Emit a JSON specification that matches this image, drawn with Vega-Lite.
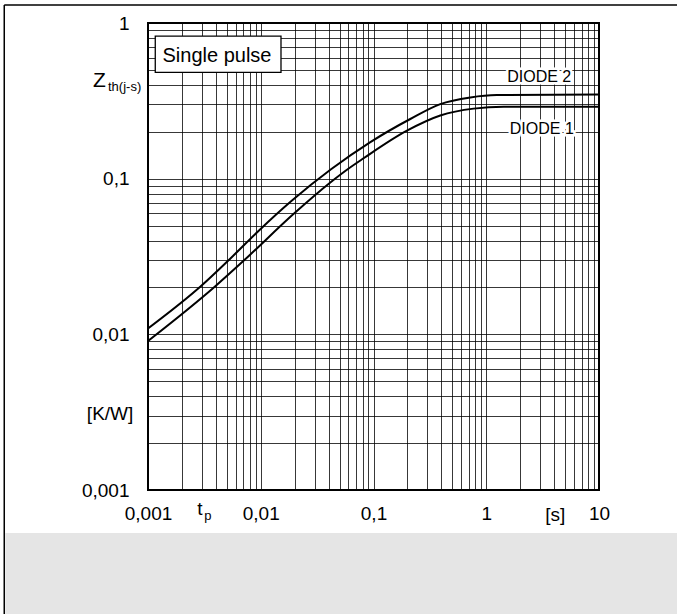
{
  "$schema": "https://vega.github.io/schema/vega-lite/v6.json",
  "autosize": {"type": "none"},
  "width": 451,
  "height": 467,
  "padding": {"left": 148, "top": 23, "right": 78, "bottom": 124},
  "background": "white",
  "config": {
    "view": {"stroke": "#000", "strokeWidth": 2},
    "font": "Liberation Sans",
    "axis": {
      "ticks": false, "domain": false, "grid": true,
      "gridColor": "#000", "gridOpacity": 0.78, "gridWidth": 1,
      "labelFont": "Liberation Sans", "labelFontSize": 19, "labelColor": "#000",
      "labelOverlap": false, "labelFlush": false, "labelBound": false
    }
  },
  "datasets": {
    "curves": [
      {"series": "DIODE 2", "t": 0.001, "z": 0.0109},
      {"series": "DIODE 2", "t": 0.00299, "z": 0.02058},
      {"series": "DIODE 2", "t": 0.00533, "z": 0.03049},
      {"series": "DIODE 2", "t": 0.0095, "z": 0.04597},
      {"series": "DIODE 2", "t": 0.0188, "z": 0.07208},
      {"series": "DIODE 2", "t": 0.042, "z": 0.1149},
      {"series": "DIODE 2", "t": 0.0938, "z": 0.1717},
      {"series": "DIODE 2", "t": 0.212, "z": 0.2417},
      {"series": "DIODE 2", "t": 0.391, "z": 0.3014},
      {"series": "DIODE 2", "t": 0.723, "z": 0.3325},
      {"series": "DIODE 2", "t": 1.24, "z": 0.3444},
      {"series": "DIODE 2", "t": 10, "z": 0.347},
      {"series": "DIODE 1", "t": 0.001, "z": 0.00906},
      {"series": "DIODE 1", "t": 0.00393, "z": 0.0203},
      {"series": "DIODE 1", "t": 0.00724, "z": 0.03023},
      {"series": "DIODE 1", "t": 0.0195, "z": 0.05928},
      {"series": "DIODE 1", "t": 0.0414, "z": 0.09453},
      {"series": "DIODE 1", "t": 0.0598, "z": 0.1158},
      {"series": "DIODE 1", "t": 0.0817, "z": 0.1352},
      {"series": "DIODE 1", "t": 0.198, "z": 0.2033},
      {"series": "DIODE 1", "t": 0.391, "z": 0.2544},
      {"series": "DIODE 1", "t": 0.773, "z": 0.2818},
      {"series": "DIODE 1", "t": 1.43, "z": 0.2897},
      {"series": "DIODE 1", "t": 10, "z": 0.290}
    ],
    "curveLabels": [
      {"label": "DIODE 2", "t": 2.95, "z": 0.449},
      {"label": "DIODE 1", "t": 3.11, "z": 0.2083}
    ],
    "bigText": [
      {"label": "Z", "t": 0.0003252, "z": 0.3858, "size": "big", "align": "left"},
      {"label": "[K/W]", "t": 0.000741, "z": 0.003076, "size": "mid", "align": "right"},
      {"label": "t", "t": 0.002737, "z": 0.000691, "size": "mid", "align": "left"},
      {"label": "[s]", "t": 4.097, "z": 0.000696, "size": "mid", "align": "center"}
    ],
    "smallText": [
      {"label": "th(j-s)", "t": 0.0004417, "z": 0.3652},
      {"label": "p", "t": 0.003157, "z": 0.000646}
    ]
  },
  "layer": [
    {
      "data": {"name": "curves"},
      "mark": {"type": "line", "color": "#000", "strokeWidth": 2, "interpolate": "monotone", "clip": true},
      "encoding": {
        "x": {
          "field": "t", "type": "quantitative",
          "scale": {"type": "log", "domain": [0.001, 10], "nice": false},
          "axis": {
            "title": null,
            "values": [0.001, 0.002, 0.003, 0.004, 0.005, 0.006, 0.007, 0.008, 0.009, 0.01, 0.02, 0.03, 0.04, 0.05, 0.06, 0.07, 0.08, 0.09, 0.1, 0.2, 0.3, 0.4, 0.5, 0.6, 0.7, 0.8, 0.9, 1, 2, 3, 4, 5, 6, 7, 8, 9, 10],
            "labelExpr": "(datum.value == 0.001 || datum.value == 0.01 || datum.value == 0.1 || datum.value == 1 || datum.value == 10) ? replace(toString(datum.value), '.', ',') : ''",
            "labelPadding": 14
          }
        },
        "y": {
          "field": "z", "type": "quantitative",
          "scale": {"type": "log", "domain": [0.001, 1], "nice": false},
          "axis": {
            "title": null,
            "values": [0.001, 0.002, 0.003, 0.004, 0.005, 0.006, 0.007, 0.008, 0.009, 0.01, 0.02, 0.03, 0.04, 0.05, 0.06, 0.07, 0.08, 0.09, 0.1, 0.2, 0.3, 0.4, 0.5, 0.6, 0.7, 0.8, 0.9, 1],
            "labelExpr": "(datum.value == 0.001 || datum.value == 0.01 || datum.value == 0.1 || datum.value == 1) ? replace(toString(datum.value), '.', ',') : ''",
            "labelPadding": 19
          }
        },
        "detail": {"field": "series"}
      }
    },
    {
      "data": {"values": [{}]},
      "mark": {"type": "rect", "color": "#e5e5e5"},
      "encoding": {
        "x": {"datum": 0.0000543, "type": "quantitative", "title": null, "scale": {"type": "log", "domain": [0.001, 10], "nice": false}},
        "x2": {"datum": 100},
        "y": {"datum": 0.00053, "type": "quantitative", "title": null, "scale": {"type": "log", "domain": [0.001, 1], "nice": false}},
        "y2": {"datum": 0.0001}
      }
    },
    {
      "data": {"values": [{}]},
      "mark": {"type": "rule", "color": "#000", "strokeWidth": 1.5},
      "encoding": {
        "x": {"datum": 0.0000531, "type": "quantitative", "title": null, "scale": {"type": "log", "domain": [0.001, 10], "nice": false}},
        "x2": {"datum": 100},
        "y": {"datum": 1.303, "type": "quantitative", "title": null, "scale": {"type": "log", "domain": [0.001, 1], "nice": false}}
      }
    },
    {
      "data": {"values": [{}]},
      "mark": {"type": "rule", "color": "#000", "strokeWidth": 1.5},
      "encoding": {
        "x": {"datum": 0.0000531, "type": "quantitative", "title": null, "scale": {"type": "log", "domain": [0.001, 10], "nice": false}},
        "y": {"datum": 1.303, "type": "quantitative", "title": null, "scale": {"type": "log", "domain": [0.001, 1], "nice": false}},
        "y2": {"datum": 0.0001}
      }
    },
    {
      "data": {"values": [{"t1": 0.00116, "t2": 0.01512, "z1": 0.824, "z2": 0.482}]},
      "mark": {"type": "rect", "fill": "#fff", "stroke": "#000", "strokeWidth": 1.3},
      "encoding": {
        "x": {"field": "t1", "type": "quantitative", "title": null, "scale": {"type": "log", "domain": [0.001, 10], "nice": false}},
        "x2": {"field": "t2"},
        "y": {"field": "z1", "type": "quantitative", "title": null, "scale": {"type": "log", "domain": [0.001, 1], "nice": false}},
        "y2": {"field": "z2"}
      }
    },
    {
      "data": {"values": [{"label": "Single pulse", "t": 0.00409, "z": 0.564}]},
      "mark": {"type": "text", "fontSize": 20, "align": "center", "baseline": "alphabetic", "color": "#000"},
      "encoding": {
        "x": {"field": "t", "type": "quantitative", "title": null, "scale": {"type": "log", "domain": [0.001, 10], "nice": false}},
        "y": {"field": "z", "type": "quantitative", "title": null, "scale": {"type": "log", "domain": [0.001, 1], "nice": false}},
        "text": {"field": "label"}
      }
    },
    {
      "data": {"name": "curveLabels"},
      "mark": {"type": "text", "fontSize": 16, "align": "center", "baseline": "middle", "color": "#fff", "stroke": "#fff", "strokeWidth": 5},
      "encoding": {
        "x": {"field": "t", "type": "quantitative", "title": null, "scale": {"type": "log", "domain": [0.001, 10], "nice": false}},
        "y": {"field": "z", "type": "quantitative", "title": null, "scale": {"type": "log", "domain": [0.001, 1], "nice": false}},
        "text": {"field": "label"}
      }
    },
    {
      "data": {"name": "curveLabels"},
      "mark": {"type": "text", "fontSize": 16, "align": "center", "baseline": "middle", "color": "#000"},
      "encoding": {
        "x": {"field": "t", "type": "quantitative", "title": null, "scale": {"type": "log", "domain": [0.001, 10], "nice": false}},
        "y": {"field": "z", "type": "quantitative", "title": null, "scale": {"type": "log", "domain": [0.001, 1], "nice": false}},
        "text": {"field": "label"}
      }
    },
    {
      "data": {"name": "bigText"},
      "transform": [{"filter": "datum.size == 'big'"}],
      "mark": {"type": "text", "fontSize": 21, "align": "left", "baseline": "alphabetic", "color": "#000"},
      "encoding": {
        "x": {"field": "t", "type": "quantitative", "title": null, "scale": {"type": "log", "domain": [0.001, 10], "nice": false}},
        "y": {"field": "z", "type": "quantitative", "title": null, "scale": {"type": "log", "domain": [0.001, 1], "nice": false}},
        "text": {"field": "label"}
      }
    },
    {
      "data": {"name": "bigText"},
      "transform": [{"filter": "datum.size == 'mid' && datum.align == 'right'"}],
      "mark": {"type": "text", "fontSize": 19, "align": "right", "baseline": "middle", "color": "#000"},
      "encoding": {
        "x": {"field": "t", "type": "quantitative", "title": null, "scale": {"type": "log", "domain": [0.001, 10], "nice": false}},
        "y": {"field": "z", "type": "quantitative", "title": null, "scale": {"type": "log", "domain": [0.001, 1], "nice": false}},
        "text": {"field": "label"}
      }
    },
    {
      "data": {"name": "bigText"},
      "transform": [{"filter": "datum.size == 'mid' && datum.align == 'left'"}],
      "mark": {"type": "text", "fontSize": 19, "align": "left", "baseline": "alphabetic", "color": "#000"},
      "encoding": {
        "x": {"field": "t", "type": "quantitative", "title": null, "scale": {"type": "log", "domain": [0.001, 10], "nice": false}},
        "y": {"field": "z", "type": "quantitative", "title": null, "scale": {"type": "log", "domain": [0.001, 1], "nice": false}},
        "text": {"field": "label"}
      }
    },
    {
      "data": {"name": "bigText"},
      "transform": [{"filter": "datum.size == 'mid' && datum.align == 'center'"}],
      "mark": {"type": "text", "fontSize": 19, "align": "center", "baseline": "middle", "color": "#000"},
      "encoding": {
        "x": {"field": "t", "type": "quantitative", "title": null, "scale": {"type": "log", "domain": [0.001, 10], "nice": false}},
        "y": {"field": "z", "type": "quantitative", "title": null, "scale": {"type": "log", "domain": [0.001, 1], "nice": false}},
        "text": {"field": "label"}
      }
    },
    {
      "data": {"name": "smallText"},
      "mark": {"type": "text", "fontSize": 13, "align": "left", "baseline": "alphabetic", "color": "#000"},
      "encoding": {
        "x": {"field": "t", "type": "quantitative", "title": null, "scale": {"type": "log", "domain": [0.001, 10], "nice": false}},
        "y": {"field": "z", "type": "quantitative", "title": null, "scale": {"type": "log", "domain": [0.001, 1], "nice": false}},
        "text": {"field": "label"}
      }
    }
  ]
}
